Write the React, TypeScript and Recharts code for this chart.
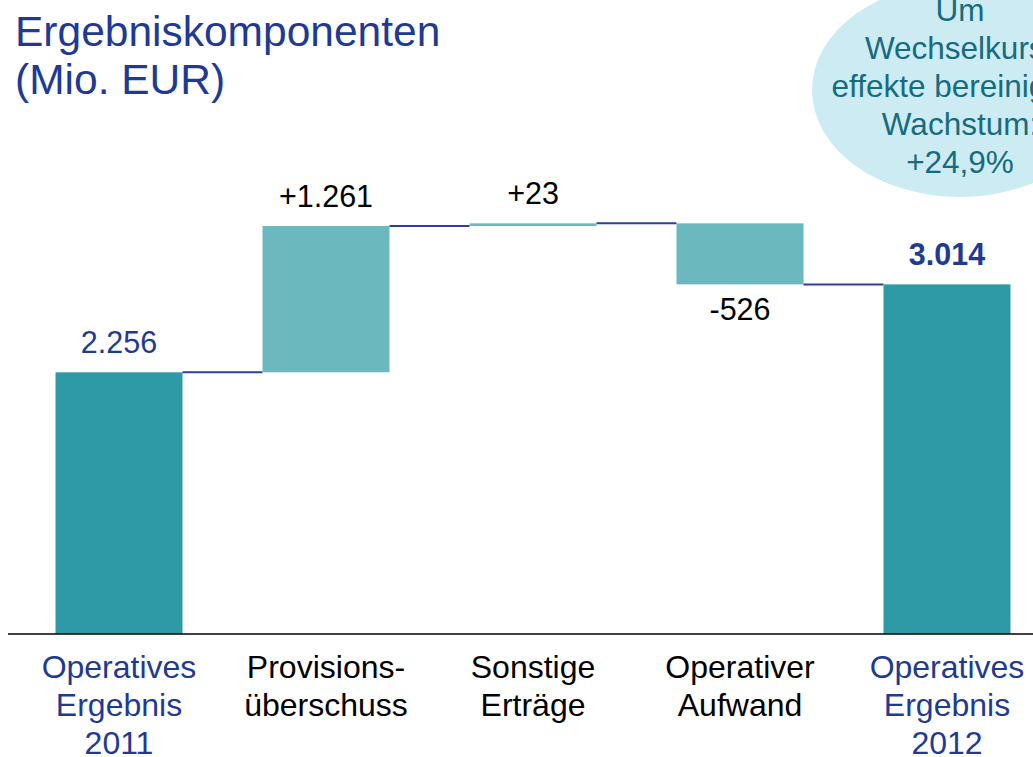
import React from "react";
import { Bar, BarChart, XAxis, YAxis } from "recharts";

const categories = [
  "Operatives\nErgebnis\n2011",
  "Provisions-\nüberschuss",
  "Sonstige\nErträge",
  "Operativer\nAufwand",
  "Operatives\nErgebnis\n2012",
];
const values = [2256, 1261, 23, -526, 3014];
const isTotal = [true, false, false, false, true];
const valueLabels = ["2.256", "+1.261", "+23", "-526", "3.014"];

const FONT = "Arial, 'Liberation Sans', sans-serif";
const BLUE = "#1f3a93";
const TOTAL_FILL = "#2e9aa6";
const DELTA_FILL = "#6bb8be";
const CONNECTOR = "#2e3f96";

const CHART_W = 1060;
const CHART_H = 757;
const MARGIN = { top: 54, right: 9.5, left: 8, bottom: 0 };
const PAD_LEFT = 7.5;
const BAND = (CHART_W - MARGIN.left - MARGIN.right - PAD_LEFT) / categories.length;

// build stacked rows: invisible base + visible step
let running = 0;
const rows = categories.map((name, i) => {
  const v = values[i];
  let base = 0;
  let size = v;
  if (isTotal[i]) {
    running = v;
  } else {
    const start = running;
    running = start + v;
    base = Math.min(start, running);
    size = Math.abs(v);
  }
  return { name, base, size, delta: v, total: isTotal[i], label: valueLabels[i] };
});

function StepShape(props: any) {
  const { x, y, width, height, payload, index } = props;
  const neg = payload.delta < 0;
  const lineY = neg ? y + height : y;
  const gap = BAND - width;
  const labelY = neg ? y + height + 36 : y - 19;
  const labelColor = payload.total ? BLUE : "#000";
  return (
    <g>
      <rect x={x} y={y} width={width} height={Math.max(height, 1)} fill={payload.total ? TOTAL_FILL : DELTA_FILL} />
      {index < rows.length - 1 && (
        <line x1={x + width} x2={x + width + gap} y1={lineY} y2={lineY} stroke={CONNECTOR} strokeWidth={2} />
      )}
      <text
        x={x + width / 2}
        y={labelY}
        textAnchor="middle"
        fontFamily={FONT}
        fontSize={30.5}
        fontWeight={index === rows.length - 1 ? "bold" : "normal"}
        fill={labelColor}
      >
        {payload.label}
      </text>
    </g>
  );
}

function CategoryTick(props: any) {
  const { x, y, payload, index } = props;
  const lines = String(payload.value).split("\n");
  const color = isTotal[index] ? BLUE : "#000";
  return (
    <text x={x} y={y} textAnchor="middle" fontFamily={FONT} fontSize={32} fill={color}>
      {lines.map((l, i) => (
        <tspan key={i} x={x} y={y + 44 + i * 38}>
          {l}
        </tspan>
      ))}
    </text>
  );
}

export default function App() {
  return (
    <div
      style={{
        position: "absolute",
        left: 0,
        top: 0,
        width: 1033,
        height: 757,
        overflow: "hidden",
        background: "#fff",
        fontFamily: FONT,
      }}
    >
      <div
        style={{
          position: "absolute",
          left: 15,
          top: 8,
          fontSize: 42.5,
          lineHeight: "48px",
          color: BLUE,
        }}
      >
        Ergebniskomponenten
        <br />
        (Mio. EUR)
      </div>
      <div
        style={{
          position: "absolute",
          left: 960 - 148,
          top: 90 - 107,
          width: 296,
          height: 214,
          borderRadius: "50%",
          background: "#cdebf2",
        }}
      />
      <div
        style={{
          position: "absolute",
          left: 960 - 200,
          top: -9,
          width: 400,
          textAlign: "center",
          fontSize: 31.5,
          lineHeight: "38px",
          color: "#166c7e",
          whiteSpace: "pre-line",
        }}
      >
        {"Um\nWechselkurs-\neffekte bereinigtes\nWachstum:\n+24,9%"}
      </div>
      <div style={{ position: "absolute", left: 0, top: 0 }}>
        <BarChart width={CHART_W} height={CHART_H} data={rows} margin={MARGIN} barSize={127}>
          <XAxis
            dataKey="name"
            height={CHART_H - 634}
            padding={{ left: PAD_LEFT, right: 0 }}
            axisLine={{ stroke: "#000", strokeWidth: 1.5 }}
            tickLine={false}
            tickSize={0}
            tickMargin={0}
            interval={0}
            tick={<CategoryTick />}
          />
          <YAxis hide domain={[0, 5000]} />
          <Bar dataKey="base" stackId="w" fill="transparent" isAnimationActive={false} />
          <Bar dataKey="size" stackId="w" shape={<StepShape />} isAnimationActive={false} />
        </BarChart>
      </div>
    </div>
  );
}
